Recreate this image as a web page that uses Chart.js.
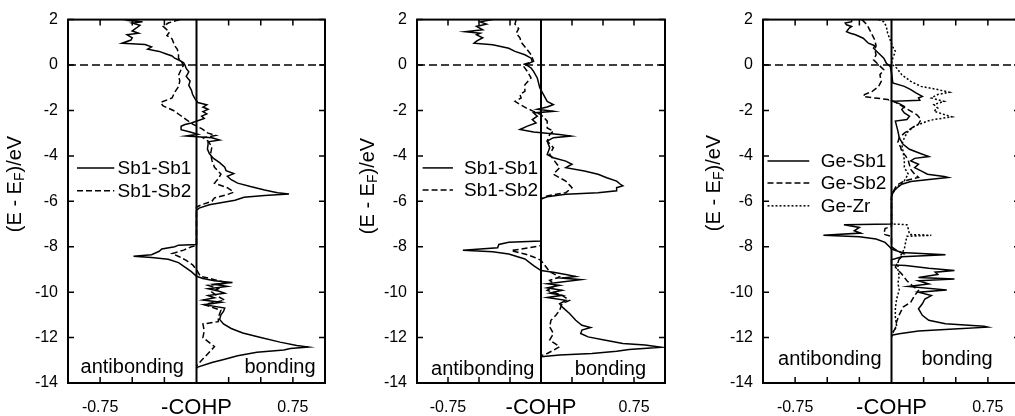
<!DOCTYPE html>
<html>
<head>
<meta charset="utf-8">
<script src="https://cdn.jsdelivr.net/npm/chart.js@4.4.1/dist/chart.umd.min.js"></script>
<style>
  html, body { margin: 0; padding: 0; background: #fff; overflow: hidden; width: 1015px; height: 416px; }
  canvas { position: absolute; top: 0; }
</style>
</head>
<body>
<canvas id="panelA" width="340" height="416" style="left:0px"></canvas>
<canvas id="panelB" width="340" height="416" style="left:340px"></canvas>
<canvas id="panelC" width="360" height="416" style="left:675px"></canvas>
<script>
// [E - EF (eV), -COHP] pairs
const sb1Sb1A = [
  [2.0, -0.45], [1.95, -0.52], [1.9, -0.42], [1.85, -0.5], [1.75, -0.44], [1.62, -0.47], [1.5, -0.5],
  [1.4, -0.45], [1.33, -0.54], [1.2, -0.5], [1.1, -0.51], [0.96, -0.58], [0.9, -0.4], [0.8, -0.35],
  [0.7, -0.38], [0.6, -0.29], [0.5, -0.24], [0.4, -0.19], [0.3, -0.17], [0.2, -0.13], [0.1, -0.1],
  [0.0, -0.09], [-0.15, -0.08], [-0.3, -0.06], [-0.5, -0.08], [-0.7, -0.05], [-0.9, -0.06], [-1.1, -0.04],
  [-1.3, -0.03], [-1.5, -0.01], [-1.65, 0.01], [-1.75, 0.08], [-1.85, 0.05], [-1.95, 0.09], [-2.05, 0.05],
  [-2.15, 0.08], [-2.25, 0.04], [-2.35, 0.06], [-2.45, 0.01], [-2.55, -0.04], [-2.62, -0.09], [-2.7, -0.12],
  [-2.85, -0.12], [-2.95, -0.05], [-3.05, 0.01], [-3.12, -0.08], [-3.2, 0.12], [-3.3, 0.18], [-3.38, 0.09],
  [-3.5, 0.09], [-3.7, 0.085], [-3.9, 0.1], [-4.1, 0.13], [-4.3, 0.18], [-4.5, 0.22], [-4.65, 0.23],
  [-4.78, 0.29], [-4.9, 0.24], [-5.05, 0.27], [-5.2, 0.32], [-5.35, 0.42], [-5.5, 0.53], [-5.62, 0.63],
  [-5.68, 0.72], [-5.74, 0.53], [-5.82, 0.37], [-5.95, 0.3], [-6.05, 0.2], [-6.15, 0.1], [-6.3, 0.02],
  [-6.4, 0], [-7.9, 0], [-7.93, -0.14], [-8.0, -0.17], [-8.1, -0.27], [-8.2, -0.29], [-8.35, -0.35],
  [-8.42, -0.49], [-8.47, -0.35], [-8.55, -0.22], [-8.7, -0.14], [-8.9, -0.09], [-9.1, -0.04], [-9.3, 0],
  [-9.4, 0.05], [-9.5, 0.14], [-9.58, 0.28], [-9.65, 0.14], [-9.75, 0.24], [-9.85, 0.09], [-9.95, 0.17],
  [-10.05, 0.22], [-10.15, 0.09], [-10.25, 0.14], [-10.35, 0.05], [-10.45, 0.19], [-10.55, 0.06],
  [-10.7, 0.22], [-10.85, 0.21], [-11.0, 0.19], [-11.2, 0.18], [-11.4, 0.21], [-11.6, 0.27], [-11.8, 0.36],
  [-12.0, 0.5], [-12.2, 0.65], [-12.35, 0.78], [-12.42, 0.87], [-12.48, 0.73], [-12.55, 0.68],
  [-12.65, 0.47], [-12.8, 0.32], [-12.95, 0.22], [-13.1, 0.12], [-13.3, 0.01], [-13.35, 0]
];
const sb1Sb2A = [
  [2.0, -0.13], [1.85, -0.22], [1.7, -0.26], [1.6, -0.24], [1.45, -0.21], [1.3, -0.23], [1.15, -0.19],
  [1.0, -0.18], [0.85, -0.17], [0.7, -0.15], [0.5, -0.14], [0.3, -0.14], [0.15, -0.12], [0.0, -0.1],
  [-0.2, -0.12], [-0.45, -0.14], [-0.7, -0.13], [-0.95, -0.14], [-1.2, -0.17], [-1.45, -0.19],
  [-1.65, -0.28], [-1.8, -0.26], [-2.0, -0.18], [-2.2, -0.13], [-2.4, -0.08], [-2.6, -0.03], [-2.8, 0.04],
  [-3.0, 0.09], [-3.1, 0.15], [-3.2, 0.05], [-3.35, 0.09], [-3.6, 0.12], [-3.9, 0.11], [-4.2, 0.12],
  [-4.5, 0.14], [-4.8, 0.19], [-5.0, 0.17], [-5.2, 0.14], [-5.4, 0.24], [-5.6, 0.29], [-5.7, 0.24],
  [-5.85, 0.14], [-6.0, 0.12], [-6.15, 0.04], [-6.25, 0], [-7.95, 0], [-8.0, -0.04], [-8.15, -0.1],
  [-8.3, -0.19], [-8.45, -0.13], [-8.6, -0.08], [-8.8, -0.03], [-9.0, 0], [-9.3, 0.03], [-9.45, 0.14],
  [-9.6, 0.24], [-9.7, 0.09], [-9.85, 0.17], [-10.0, 0.12], [-10.2, 0.17], [-10.35, 0.22], [-10.55, 0.06],
  [-10.8, 0.19], [-11.1, 0.17], [-11.3, 0.17], [-11.4, 0.05], [-11.7, 0.06], [-12.0, 0.05], [-12.4, 0.14],
  [-12.7, 0.09], [-13.0, 0.04], [-13.25, 0]
];
const sb1Sb1B = [
  [2.0, -0.39], [1.9, -0.49], [1.8, -0.44], [1.7, -0.52], [1.55, -0.47], [1.47, -0.61], [1.4, -0.49],
  [1.33, -0.52], [1.2, -0.47], [1.05, -0.52], [0.96, -0.54], [0.89, -0.39], [0.74, -0.26], [0.6, -0.21],
  [0.45, -0.13], [0.3, -0.08], [0.15, -0.07], [0.01, -0.12], [-0.13, -0.08], [-0.28, -0.06], [-0.57, -0.03],
  [-1.0, -0.01], [-1.3, 0.02], [-1.6, 0.05], [-1.74, 0.1], [-1.85, 0.05], [-1.95, -0.03], [-2.04, 0.1],
  [-2.11, -0.06], [-2.25, -0.03], [-2.4, -0.07], [-2.55, -0.04], [-2.69, -0.11], [-2.84, -0.17],
  [-2.95, -0.06], [-3.06, 0.15], [-3.13, 0.24], [-3.2, 0.1], [-3.35, 0.05], [-3.64, 0.07], [-3.94, 0.05],
  [-4.08, 0.1], [-4.23, 0.2], [-4.37, 0.25], [-4.52, 0.2], [-4.67, 0.35], [-4.81, 0.46], [-4.96, 0.53],
  [-5.11, 0.61], [-5.25, 0.64], [-5.32, 0.66], [-5.4, 0.61], [-5.54, 0.61], [-5.62, 0.46], [-5.69, 0.2],
  [-5.8, 0.05], [-5.9, 0], [-7.75, 0], [-7.8, -0.26], [-7.9, -0.34], [-8.05, -0.35], [-8.15, -0.63],
  [-8.22, -0.39], [-8.32, -0.26], [-8.54, -0.13], [-8.83, -0.06], [-9.05, 0], [-9.12, 0.1], [-9.22, 0.2],
  [-9.31, 0.28], [-9.38, 0.17], [-9.45, 0.32], [-9.56, 0.15], [-9.63, 0.05], [-9.7, 0.15], [-9.81, 0.05],
  [-9.92, 0.17], [-10.04, 0.07], [-10.14, 0.17], [-10.24, 0.05], [-10.36, 0.2], [-10.51, 0.15],
  [-10.65, 0.17], [-10.94, 0.23], [-11.24, 0.28], [-11.46, 0.33], [-11.56, 0.4], [-11.67, 0.33],
  [-11.82, 0.32], [-11.97, 0.38], [-12.11, 0.51], [-12.26, 0.66], [-12.33, 0.84], [-12.43, 0.97],
  [-12.52, 0.71], [-12.6, 0.61], [-12.7, 0.41], [-12.77, 0.15], [-12.84, 0]
];
const sb1Sb2B = [
  [2.0, -0.2], [1.8, -0.21], [1.6, -0.18], [1.4, -0.2], [1.2, -0.17], [1.0, -0.16], [0.74, -0.12],
  [0.45, -0.08], [0.16, -0.06], [0.01, -0.15], [-0.28, -0.11], [-0.57, -0.08], [-0.87, -0.13],
  [-1.16, -0.13], [-1.3, -0.17], [-1.45, -0.16], [-1.6, -0.21], [-1.74, -0.17], [-1.89, -0.12],
  [-2.04, -0.06], [-2.18, 0], [-2.47, 0.05], [-2.77, 0.05], [-2.91, 0.1], [-3.06, 0.07], [-3.35, 0.05],
  [-3.64, 0.1], [-3.94, 0.07], [-4.23, 0.11], [-4.52, 0.15], [-4.81, 0.1], [-5.11, 0.2], [-5.4, 0.25],
  [-5.62, 0.2], [-5.76, 0.05], [-5.9, 0], [-7.95, 0], [-8.1, -0.16], [-8.17, -0.24], [-8.32, -0.13],
  [-8.45, -0.06], [-8.6, 0], [-9.1, 0.07], [-9.33, 0.15], [-9.48, 0.07], [-9.7, 0.12], [-9.92, 0.05],
  [-10.14, 0.17], [-10.36, 0.23], [-10.51, 0.17], [-10.8, 0.15], [-11.02, 0.12], [-11.24, 0.08],
  [-11.53, 0.07], [-11.82, 0.1], [-12.11, 0.07], [-12.4, 0.15], [-12.56, 0.1], [-12.7, 0.05], [-12.8, 0]
];
const geSb1C = [
  [2.0, -0.31], [1.91, -0.31], [1.85, -0.36], [1.77, -0.35], [1.7, -0.31], [1.62, -0.33], [1.47, -0.35],
  [1.4, -0.32], [1.33, -0.28], [1.18, -0.22], [0.96, -0.18], [0.85, -0.13], [0.74, -0.14], [0.52, -0.1],
  [0.3, -0.06], [0.08, -0.04], [-0.06, -0.01], [-0.35, 0], [-0.79, 0.01], [-0.94, 0.1], [-1.08, 0.15],
  [-1.23, 0.19], [-1.38, 0.24], [-1.45, 0.21], [-1.55, 0.22], [-1.6, 0.01], [-1.7, 0.06], [-1.82, 0.1],
  [-1.96, 0.08], [-2.11, 0.1], [-2.25, 0.14], [-2.4, 0.12], [-2.47, 0.03], [-2.69, 0.04], [-2.91, 0.05],
  [-3.2, 0.06], [-3.49, 0.09], [-3.71, 0.14], [-3.86, 0.21], [-4.03, 0.29], [-4.11, 0.18], [-4.22, 0.15],
  [-4.37, 0.21], [-4.52, 0.18], [-4.66, 0.23], [-4.81, 0.28], [-4.91, 0.41], [-4.95, 0.44], [-5.03, 0.31],
  [-5.13, 0.15], [-5.25, 0.08], [-5.47, 0.03], [-5.69, 0.005], [-5.83, 0], [-7.0, 0], [-7.03, -0.37],
  [-7.15, -0.25], [-7.3, -0.29], [-7.4, -0.24], [-7.49, -0.53], [-7.56, -0.25], [-7.66, -0.12],
  [-7.81, -0.05], [-8.03, -0.01], [-8.1, 0], [-8.25, 0.08], [-8.35, 0.42], [-8.44, 0.08], [-8.58, 0],
  [-8.8, 0], [-8.83, 0.11], [-8.95, 0.29], [-9.05, 0.49], [-9.12, 0.34], [-9.22, 0.36], [-9.35, 0.21],
  [-9.42, 0.49], [-9.5, 0.21], [-9.64, 0.29], [-9.75, 0.13], [-9.9, 0.43], [-10.0, 0.21], [-10.15, 0.31],
  [-10.3, 0.26], [-10.51, 0.24], [-10.73, 0.21], [-11.02, 0.24], [-11.24, 0.29], [-11.39, 0.42],
  [-11.5, 0.72], [-11.54, 0.75], [-11.61, 0.52], [-11.71, 0.21], [-11.83, 0.06], [-11.9, 0]
];
const geSb2C = [
  [2.0, -0.23], [1.77, -0.19], [1.55, -0.17], [1.33, -0.15], [1.1, -0.13], [0.85, -0.12], [0.67, -0.13],
  [0.45, -0.12], [0.23, -0.14], [0.01, -0.1], [-0.21, -0.06], [-0.43, -0.09], [-0.72, -0.08],
  [-0.94, -0.1], [-1.16, -0.15], [-1.3, -0.21], [-1.38, -0.22], [-1.45, -0.13], [-1.52, -0.03],
  [-1.6, 0.02], [-1.8, 0.08], [-2.0, 0.14], [-2.2, 0.2], [-2.4, 0.23], [-2.6, 0.21], [-2.8, 0.15],
  [-3.0, 0.1], [-3.2, 0.06], [-3.4, 0.05], [-3.6, 0.07], [-3.8, 0.08], [-4.0, 0.11], [-4.2, 0.13],
  [-4.4, 0.14], [-4.6, 0.15], [-4.8, 0.18], [-4.95, 0.21], [-5.1, 0.1], [-5.3, 0.04], [-5.6, 0.01],
  [-5.8, 0], [-7.1, 0], [-7.2, -0.05], [-7.45, -0.06], [-7.55, 0], [-8.0, 0], [-8.2, 0.05], [-8.32, 0.1],
  [-8.55, 0.06], [-8.9, 0.03], [-9.2, 0.08], [-9.5, 0.12], [-9.7, 0.16], [-9.93, 0.21], [-10.15, 0.18],
  [-10.44, 0.15], [-10.66, 0.09], [-11.0, 0.06], [-11.3, 0.04], [-11.6, 0.03], [-11.85, 0]
];
const geZrC = [
  [2.0, -0.1], [1.9, -0.06], [1.7, -0.04], [1.4, -0.03], [1.1, -0.01], [0.8, 0.01], [0.6, 0.03],
  [0.3, 0.01], [0.05, 0], [-0.13, 0.04], [-0.43, 0.08], [-0.72, 0.15], [-0.94, 0.23], [-1.08, 0.36],
  [-1.2, 0.45], [-1.3, 0.36], [-1.45, 0.31], [-1.6, 0.41], [-1.74, 0.33], [-1.9, 0.36], [-2.03, 0.33],
  [-2.18, 0.41], [-2.28, 0.47], [-2.4, 0.33], [-2.47, 0.28], [-2.69, 0.18], [-2.91, 0.13], [-3.2, 0.1],
  [-3.5, 0.08], [-3.8, 0.09], [-4.2, 0.1], [-4.5, 0.1], [-4.8, 0.13], [-5.1, 0.1], [-5.35, 0.05],
  [-5.6, 0.01], [-5.8, 0], [-7.0, 0], [-7.03, 0.12], [-7.2, 0.13], [-7.46, 0.14], [-7.5, 0.31],
  [-7.54, 0.12], [-7.8, 0.11], [-8.1, 0.1], [-8.4, 0.07], [-8.7, 0.05], [-9.0, 0.05], [-9.3, 0.06],
  [-9.6, 0.05], [-9.9, 0.06], [-10.3, 0.04], [-10.7, 0.03], [-11.1, 0.03], [-11.5, 0.04], [-11.8, 0.01],
  [-12.0, 0]
];

const xTickValues = [-1, -0.75, -0.5, -0.25, 0, 0.25, 0.5, 0.75, 1];
const xTickLabels = ['', '-0.75', '', '', '-COHP', '', '', '0.75', ''];
const yMin = -14, yMax = 2, yStep = 2;

const FONT = "'Liberation Sans', Arial, Helvetica, sans-serif";
Chart.defaults.font.family = FONT;
Chart.defaults.color = '#000';

const toPoints = (pairs) => pairs.map(([e, c]) => ({ x: c, y: e }));

const lineStyles = {
  solid: [],
  dashed: [6, 3],
  dotted: [2, 2]
};

const decor = {
  id: 'decor',
  beforeDatasetsDraw(chart) {
    const { ctx, chartArea: a, scales: { y } } = chart;
    const y0 = y.getPixelForValue(0);
    ctx.save();
    ctx.strokeStyle = '#000';
    ctx.lineWidth = 1.5;
    ctx.setLineDash([8, 4]);
    ctx.beginPath();
    ctx.moveTo(a.left, y0);
    ctx.lineTo(a.right, y0);
    ctx.stroke();
    ctx.restore();
  },
  afterDatasetsDraw(chart, args, opts) {
    const { ctx, chartArea: a, scales: { x, y } } = chart;
    ctx.save();
    ctx.strokeStyle = '#000';
    ctx.fillStyle = '#000';
    ctx.setLineDash([]);

    // frame and zero line
    ctx.lineWidth = 2;
    ctx.strokeRect(a.left, a.top, a.right - a.left, a.bottom - a.top);
    const x0 = x.getPixelForValue(0);
    ctx.beginPath();
    ctx.moveTo(x0, a.top);
    ctx.lineTo(x0, a.bottom);
    ctx.stroke();

    // inward tick marks
    ctx.lineWidth = 1.5;
    ctx.beginPath();
    x.ticks.forEach((t) => {
      if (t.value <= -1 || t.value >= 1 || t.value === 0) return;
      const px = x.getPixelForValue(t.value);
      ctx.moveTo(px, a.top); ctx.lineTo(px, a.top + 6);
      ctx.moveTo(px, a.bottom); ctx.lineTo(px, a.bottom - 6);
    });
    y.ticks.forEach((t) => {
      const py = y.getPixelForValue(t.value);
      ctx.moveTo(a.left, py); ctx.lineTo(a.left + 6, py);
      ctx.moveTo(a.right, py); ctx.lineTo(a.right - 6, py);
    });
    ctx.stroke();

    // antibonding / bonding
    ctx.font = `20px ${FONT}`;
    ctx.textAlign = 'center';
    ctx.textBaseline = 'alphabetic';
    const ly = y.getPixelForValue(opts.notes.y);
    ctx.fillText('antibonding', x.getPixelForValue(opts.notes.anti), ly);
    ctx.fillText('bonding', x.getPixelForValue(opts.notes.bond), ly);

    // legend
    ctx.font = `19px ${FONT}`;
    ctx.textAlign = 'left';
    ctx.textBaseline = 'middle';
    ctx.lineWidth = 1.5;
    chart.data.datasets.forEach((ds, i) => {
      const py = y.getPixelForValue(opts.legend.rows[i]);
      ctx.setLineDash(ds.borderDash);
      ctx.beginPath();
      ctx.moveTo(x.getPixelForValue(opts.legend.x0), py);
      ctx.lineTo(x.getPixelForValue(opts.legend.x1), py);
      ctx.stroke();
      ctx.setLineDash([]);
      ctx.fillText(ds.label, x.getPixelForValue(opts.legend.tx), py + 1);
    });

    // y title with subscript
    const big = `20px ${FONT}`, small = `14px ${FONT}`;
    const parts = [['(E - E', big, 0], ['F', small, 5], [')/eV', big, 0]];
    const widths = parts.map(([s, f]) => { ctx.font = f; return ctx.measureText(s).width; });
    let pos = -widths.reduce((s, w) => s + w, 0) / 2;
    ctx.translate(opts.title.x, opts.title.y);
    ctx.rotate(-Math.PI / 2);
    ctx.textBaseline = 'middle';
    parts.forEach(([s, f, dy], i) => {
      ctx.font = f;
      ctx.fillText(s, pos, dy);
      pos += widths[i];
    });
    ctx.restore();
  }
};

const makePanel = (id, series, cfg) => {
  new Chart(document.getElementById(id), {
    type: 'scatter',
    data: {
      datasets: series.map((s) => ({
        label: s.label,
        data: toPoints(s.data),
        showLine: true,
        pointRadius: 0,
        borderColor: '#000',
        borderWidth: 1.5,
        borderDash: lineStyles[s.style],
        tension: 0,
        fill: false
      }))
    },
    options: {
      responsive: false,
      animation: false,
      devicePixelRatio: 1,
      layout: { padding: { top: 18, right: cfg.padRight, left: 0, bottom: 0 } },
      plugins: {
        legend: { display: false },
        tooltip: { enabled: false },
        decor: cfg
      },
      scales: {
        x: {
          type: 'linear',
          min: -1,
          max: 1,
          afterBuildTicks: (scale) => { scale.ticks = xTickValues.map((v) => ({ value: v })); },
          afterFit: (scale) => { scale.height = 33; },
          ticks: {
            autoSkip: false,
            maxRotation: 0,
            padding: 15,
            color: '#000',
            callback: (v) => xTickLabels[xTickValues.indexOf(v)] ?? '',
            font: (c) => (c.tick && c.tick.value === 0)
              ? { size: 22, lineHeight: 0.873 }
              : { size: 16, lineHeight: 1.2 }
          },
          grid: { display: false, drawTicks: false },
          border: { display: false }
        },
        y: {
          type: 'linear',
          min: yMin,
          max: yMax,
          afterFit: (scale) => { scale.width = cfg.yWidth; },
          ticks: { stepSize: yStep, padding: 10, color: '#000', font: { size: 16 } },
          grid: { display: false, drawTicks: false },
          border: { display: false }
        }
      }
    },
    plugins: [decor]
  });
};

makePanel('panelA', [
  { label: 'Sb1-Sb1', data: sb1Sb1A, style: 'solid' },
  { label: 'Sb1-Sb2', data: sb1Sb2A, style: 'dashed' }
], {
  yWidth: 68, padRight: 10,
  title: { x: 15, y: 184 },
  notes: { anti: -0.5, bond: 0.65, y: -13.58 },
  legend: { x0: -0.93, x1: -0.64, tx: -0.615, rows: [-4.53, -5.54] }
});

makePanel('panelB', [
  { label: 'Sb1-Sb1', data: sb1Sb1B, style: 'solid' },
  { label: 'Sb1-Sb2', data: sb1Sb2B, style: 'dashed' }
], {
  yWidth: 77, padRight: 5,
  title: { x: 28, y: 186 },
  notes: { anti: -0.47, bond: 0.56, y: -13.65 },
  legend: { x0: -0.955, x1: -0.71, tx: -0.62, rows: [-4.53, -5.5] }
});

makePanel('panelC', [
  { label: 'Ge-Sb1', data: geSb1C, style: 'solid' },
  { label: 'Ge-Sb2', data: geSb2C, style: 'dashed' },
  { label: 'Ge-Zr', data: geZrC, style: 'dotted' }
], {
  yWidth: 88, padRight: 12,
  title: { x: 39, y: 183 },
  notes: { anti: -0.48, bond: 0.51, y: -13.21 },
  legend: { x0: -0.965, x1: -0.64, tx: -0.55, rows: [-4.23, -5.19, -6.2] }
});
</script>
</body>
</html>
